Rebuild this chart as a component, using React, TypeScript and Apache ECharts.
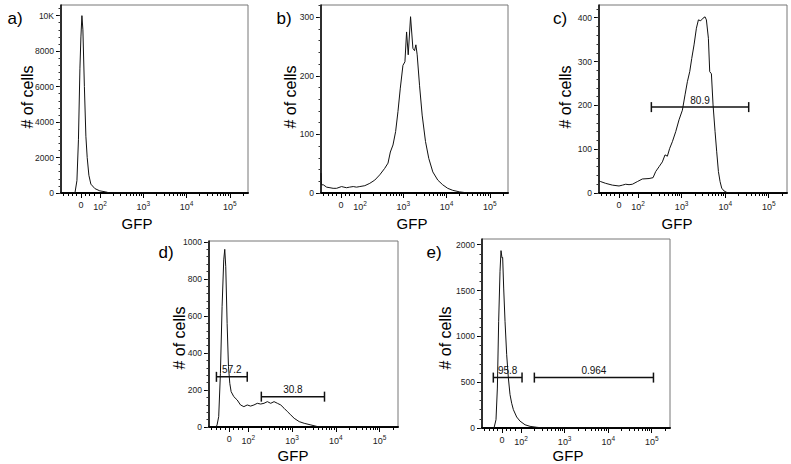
import React, { useEffect, useRef } from "react";
import * as echarts from "echarts";

// x values are in logicle display units: 0 -> 0, 10^2 -> 0.44, each further decade +1
const xTickPos = [0, 0.44, 1.44, 2.44, 3.44];
const xTickExp = [0, 2, 3, 4, 5];

const panelA: [number, number][] = [
  [-0.46, 0], [-0.2, 0], [-0.138, 0], [-0.092, 700], [-0.057, 3000], [-0.023, 7000], [0, 8800],
  [0.023, 10000], [0.046, 9200], [0.08, 6000], [0.115, 3200], [0.145, 2000], [0.184, 1000],
  [0.23, 500], [0.322, 250], [0.437, 120], [0.575, 60], [0.667, 0], [3.86, 0],
];

const panelB: [number, number][] = [
  [-0.46, 34], [-0.45, 14], [-0.406, 14], [-0.33, 10], [-0.253, 9], [-0.18, 8], [-0.1, 8], [0.015, 11],
  [0.07, 10], [0.13, 9], [0.2, 10], [0.284, 11], [0.36, 10], [0.437, 11], [0.552, 12.5], [0.667, 16.5],
  [0.782, 22], [0.897, 31], [1.011, 42], [1.088, 51], [1.142, 70], [1.203, 82], [1.264, 105],
  [1.318, 139], [1.372, 179], [1.433, 218], [1.479, 224], [1.517, 275], [1.555, 236], [1.609, 301],
  [1.663, 247], [1.701, 243], [1.732, 253], [1.762, 236], [1.816, 184], [1.877, 133], [1.954, 88],
  [2.03, 59], [2.123, 36], [2.238, 22], [2.352, 14], [2.467, 8], [2.582, 4.6], [2.736, 2],
  [2.889, 0.5], [3.86, 0],
];

const panelC: [number, number][] = [
  [-0.46, 28], [-0.421, 26], [-0.307, 22], [-0.153, 18], [0, 16], [0.08, 18], [0.153, 20], [0.23, 19],
  [0.307, 20], [0.421, 26], [0.536, 32], [0.69, 33], [0.782, 35], [0.843, 49], [0.92, 60], [0.996, 71],
  [1.057, 87], [1.111, 84], [1.165, 102], [1.226, 117], [1.303, 140], [1.379, 167], [1.456, 189],
  [1.517, 224], [1.571, 254], [1.625, 277], [1.671, 307], [1.724, 338], [1.778, 376], [1.824, 395],
  [1.877, 393], [1.931, 399], [1.977, 402], [2.008, 395], [2.054, 353], [2.084, 277], [2.123, 272],
  [2.161, 201], [2.207, 140], [2.245, 94], [2.284, 49], [2.322, 26], [2.36, 11], [2.414, 4.6],
  [2.49, 0.5], [3.86, 0],
];

const panelD: [number, number][] = [
  [-0.46, 0], [-0.3, 0], [-0.276, 11], [-0.238, 56], [-0.199, 290], [-0.161, 650], [-0.123, 903],
  [-0.1, 960], [-0.077, 866], [-0.046, 560], [-0.015, 326], [0.015, 236], [0.046, 191], [0.107, 164],
  [0.184, 146], [0.261, 119], [0.337, 110], [0.414, 119], [0.491, 113], [0.567, 119], [0.644, 128],
  [0.721, 124], [0.797, 128], [0.874, 137], [0.951, 128], [1.027, 137], [1.103, 128], [1.18, 119],
  [1.257, 101], [1.333, 83], [1.41, 65], [1.487, 47], [1.602, 29], [1.716, 20], [1.87, 11],
  [2.023, 2], [2.138, 0], [3.86, 0],
];

const panelE: [number, number][] = [
  [-0.46, 0], [-0.184, 0], [-0.138, 91], [-0.107, 436], [-0.077, 1164], [-0.046, 1710],
  [-0.023, 1935], [0, 1855], [0.015, 1860], [0.038, 1527], [0.069, 1164], [0.107, 800],
  [0.146, 545], [0.184, 364], [0.222, 270], [0.261, 200], [0.337, 120], [0.414, 75], [0.529, 35],
  [0.644, 18], [0.797, 8], [0.912, 2], [1.03, 0], [3.86, 0],
];

// gates: [xStart, xEnd, y, label]
const gatesC: [number, number, number, string][] = [[0.743, 2.98, 196, "80.9"]];
const gatesD: [number, number, number, string][] = [
  [-0.29, 0.414, 271, "57.2"],
  [0.736, 2.18, 164, "30.8"],
];
const gatesE: [number, number, number, string][] = [
  [-0.2, 0.46, 550, "95.8"],
  [0.743, 3.48, 550, "0.964"],
];

const panelLetters = ["a)", "b)", "c)", "d)", "e)"];
const yMaxes = [10600, 321, 429, 1005, 2062];
const ySteps = [2000, 100, 100, 200, 500];

const FONT = "'Liberation Sans', Arial, sans-serif";

const layouts = [
  { left: 61, top: 5, width: 187, height: 188, letter: [15, 18], yName: [27, 97], xName: [137, 223] },
  { left: 321, top: 5, width: 187, height: 188, letter: [284, 18], yName: [290, 97], xName: [412, 223] },
  { left: 599, top: 5, width: 188, height: 188, letter: [560, 18], yName: [565, 97], xName: [677, 223] },
  { left: 209, top: 241, width: 189, height: 186, letter: [166, 252], yName: [179, 338], xName: [293, 455] },
  { left: 482, top: 239, width: 188, height: 189, letter: [434, 252], yName: [445, 338], xName: [568, 455] },
];

const X_MIN = -0.46;
const X_MAX = 3.86;

function minorXTicks(): number[] {
  const out: number[] = [-0.4, -0.3, -0.2, -0.1, 0.1, 0.2, 0.3];
  for (let n = 2; n <= 5; n++) {
    for (let k = 2; k <= 9; k++) {
      const v = 0.44 + (n - 2) + Math.log10(k);
      if (v < X_MAX) out.push(v);
    }
  }
  return out;
}

export default function App() {
  const ref = useRef<HTMLDivElement>(null);
  useEffect(() => {
    if (!ref.current) return;
    const chart = echarts.init(ref.current, undefined, { renderer: "svg" });
    const datasets = [panelA, panelB, panelC, panelD, panelE];
    const gates = [[], [], gatesC, gatesD, gatesE] as [number, number, number, string][][];
    const minorX = minorXTicks();

    const grid: any[] = [];
    const xAxis: any[] = [];
    const yAxis: any[] = [];
    const series: any[] = [];
    const graphic: any[] = [];

    layouts.forEach((L, i) => {
      grid.push({
        left: L.left, top: L.top, width: L.width, height: L.height,
        show: true, borderColor: "#777", borderWidth: 1, backgroundColor: "#fff",
      });
      const majorX = 2 * i;
      xAxis.push({
        type: "value", gridIndex: i, min: X_MIN, max: X_MAX, position: "bottom",
        axisLine: { show: true, onZero: false, lineStyle: { color: "#000", width: 2 } },
        axisTick: { show: true, customValues: xTickPos, length: 5, lineStyle: { color: "#000" } },
        splitLine: { show: false },
        axisLabel: {
          customValues: xTickPos, margin: 7, fontSize: 9, color: "#222", fontFamily: FONT,
          formatter: (v: number) => {
            const idx = xTickPos.findIndex((p) => Math.abs(p - v) < 1e-6);
            if (idx < 0) return "";
            return xTickExp[idx] === 0 ? "0" : `10{sup|${xTickExp[idx]}}`;
          },
          rich: { sup: { fontSize: 6.5, color: "#222", fontFamily: FONT, padding: [0, 0, 6, 0] } },
        },
      });
      xAxis.push({
        type: "value", gridIndex: i, min: X_MIN, max: X_MAX, position: "bottom",
        axisLine: { show: false, onZero: false }, splitLine: { show: false }, axisLabel: { show: false },
        axisTick: { show: true, customValues: minorX, length: 3, lineStyle: { color: "#000" } },
      });
      const step = ySteps[i];
      const majorY: number[] = [];
      for (let v = 0; v <= yMaxes[i] + 1e-9; v += step) majorY.push(v);
      const minorY: number[] = [];
      for (let v = 0; v <= yMaxes[i] + 1e-9; v += step / 5) minorY.push(v);
      yAxis.push({
        type: "value", gridIndex: i, min: 0, max: yMaxes[i], position: "left",
        axisLine: { show: true, onZero: false, lineStyle: { color: "#000", width: 1.5 } },
        axisTick: { show: true, customValues: majorY, length: 5, lineStyle: { color: "#000" } },
        splitLine: { show: false },
        axisLabel: {
          customValues: majorY, margin: 7, fontSize: 8.5, color: "#222", fontFamily: FONT,
          formatter: (v: number) => (v === 10000 ? "10K" : String(v)),
        },
      });
      yAxis.push({
        type: "value", gridIndex: i, min: 0, max: yMaxes[i], position: "left",
        axisLine: { show: false, onZero: false }, splitLine: { show: false }, axisLabel: { show: false },
        axisTick: { show: true, customValues: minorY, length: 2.5, lineStyle: { color: "#333" } },
      });
      series.push({
        type: "line", xAxisIndex: majorX, yAxisIndex: 2 * i, data: datasets[i],
        showSymbol: false, symbol: "none", silent: true,
        lineStyle: { color: "#111", width: 1 },
      });
      gates[i].forEach((g) => {
        series.push({
          type: "line", xAxisIndex: majorX, yAxisIndex: 2 * i,
          data: [[g[0], g[2]], [g[1], g[2]]],
          symbol: "rect", symbolSize: [1.5, 10], showSymbol: true, silent: true,
          itemStyle: { color: "#111" },
          lineStyle: { color: "#111", width: 1.5 },
        });
        series.push({
          type: "scatter", xAxisIndex: majorX, yAxisIndex: 2 * i,
          data: [[(g[0] + g[1]) / 2, g[2]]], symbolSize: 0, silent: true,
          itemStyle: { color: "#000", opacity: 1 },
          label: {
            show: true, position: "top", distance: 2, formatter: g[3],
            fontSize: 10, color: "#111", opacity: 1, fontFamily: FONT,
            textBorderWidth: 0,
          },
        });
      });
      graphic.push({
        type: "text", x: L.letter[0], y: L.letter[1],
        style: { text: panelLetters[i], fontSize: 17, fontFamily: FONT, fill: "#000", align: "center", verticalAlign: "middle" },
      });
      graphic.push({
        type: "text", x: L.yName[0], y: L.yName[1], rotation: Math.PI / 2,
        style: { text: "# of cells", fontSize: 16, fontFamily: FONT, fill: "#000", align: "center", verticalAlign: "middle" },
      });
      graphic.push({
        type: "text", x: L.xName[0], y: L.xName[1],
        style: { text: "GFP", fontSize: 15, fontFamily: FONT, fill: "#000", align: "center", verticalAlign: "middle" },
      });
    });

    chart.setOption({
      animation: false,
      backgroundColor: "#fff",
      grid, xAxis, yAxis, series, graphic,
    });
    return () => chart.dispose();
  }, []);
  return <div ref={ref} style={{ width: 791, height: 464, position: "absolute", left: 0, top: 0 }} />;
}
